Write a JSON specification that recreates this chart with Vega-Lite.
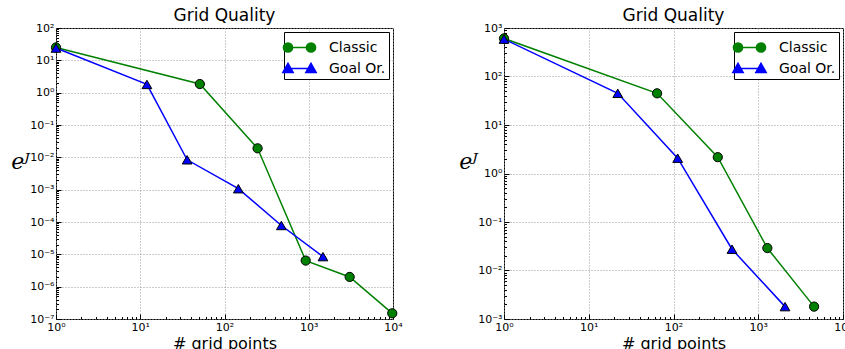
{
  "$schema": "https://vega.github.io/schema/vega-lite/v6.json",
  "background": "white",
  "padding": {"left": 10, "top": 6, "right": 0, "bottom": 0},
  "spacing": 55,
  "resolve": {
    "scale": {"fill": "independent", "stroke": "independent", "shape": "independent"},
    "legend": {"fill": "independent", "stroke": "independent", "shape": "independent"}
  },
  "config": {
    "font": "DejaVu Sans",
    "view": {"stroke": "black", "strokeWidth": 1},
    "title": {"fontSize": 17, "fontWeight": "normal", "color": "black", "offset": -3, "font": "DejaVu Sans", "frame": "group", "baseline": "alphabetic"},
    "axis": {
      "domain": false,
      "labelFont": "DejaVu Sans",
      "labelFontSize": 11,
      "labelColor": "black",
      "titleFont": "DejaVu Sans",
      "titleFontSize": 16,
      "titleFontWeight": "normal",
      "titleColor": "black",
      "tickColor": "black",
      "gridColor": "#999999",
      "gridDash": [1, 2],
      "gridWidth": 1
    },
    "legend": {
      "title": null,
      "orient": "top-right",
      "offset": 4,
      "padding": 3,
      "strokeColor": "black",
      "fillColor": "white",
      "cornerRadius": 0,
      "labelFontSize": 14,
      "labelFont": "DejaVu Sans",
      "labelColor": "black",
      "symbolSize": 529,
      "symbolStrokeWidth": 1.5,
      "symbolOpacity": 1,
      "labelOffset": 17,
      "rowPadding": 0
    }
  },
  "datasets": {
    "left": [
      {"series": "Classic", "x": 1, "y": 25},
      {"series": "Classic", "x": 51, "y": 1.85},
      {"series": "Classic", "x": 247, "y": 0.019},
      {"series": "Classic", "x": 920, "y": 6.4e-6},
      {"series": "Classic", "x": 3060, "y": 2.0e-6},
      {"series": "Classic", "x": 9800, "y": 1.5e-7},
      {"series": "Goal Or.", "x": 1, "y": 24},
      {"series": "Goal Or.", "x": 12, "y": 1.8},
      {"series": "Goal Or.", "x": 36, "y": 0.0084},
      {"series": "Goal Or.", "x": 146, "y": 0.00107},
      {"series": "Goal Or.", "x": 473, "y": 7.8e-5},
      {"series": "Goal Or.", "x": 1475, "y": 8.5e-6}
    ],
    "right": [
      {"series": "Classic", "x": 1, "y": 610},
      {"series": "Classic", "x": 64, "y": 45},
      {"series": "Classic", "x": 333, "y": 2.17},
      {"series": "Classic", "x": 1280, "y": 0.029},
      {"series": "Classic", "x": 4560, "y": 0.0018},
      {"series": "Goal Or.", "x": 1, "y": 590},
      {"series": "Goal Or.", "x": 22, "y": 45},
      {"series": "Goal Or.", "x": 112, "y": 2.07},
      {"series": "Goal Or.", "x": 490, "y": 0.0275},
      {"series": "Goal Or.", "x": 2070, "y": 0.0018}
    ]
  },
  "hconcat": [
    {
      "width": 337,
      "height": 291,
      "title": "Grid Quality",
      "data": {"name": "left"},
      "encoding": {
        "x": {
          "field": "x", "type": "quantitative",
          "scale": {"type": "log", "domain": [1, 10000], "nice": false},
          "axis": {
            "title": "# grid points",
            "titlePadding": 1,
            "values": [1,2,3,4,5,6,7,8,9,10,20,30,40,50,60,70,80,90,100,200,300,400,500,600,700,800,900,1000,2000,3000,4000,5000,6000,7000,8000,9000,10000],
            "labelExpr": "abs(log(datum.value)/LN10 - round(log(datum.value)/LN10)) < 0.001 ? '10' + (round(log(datum.value)/LN10) < 0 ? '⁻' : '') + ['⁰','¹','²','³','⁴','⁵','⁶','⁷','⁸','⁹'][abs(round(log(datum.value)/LN10))] : ''",
            "labelFlush": false,
            "labelOverlap": false,
            "tickSize": {"condition": {"test": "abs(log(datum.value)/LN10 - round(log(datum.value)/LN10)) < 0.001", "value": -5}, "value": -2.5},
            "gridOpacity": {"condition": {"test": "abs(log(datum.value)/LN10 - round(log(datum.value)/LN10)) < 0.001", "value": 1}, "value": 0},
            "labelPadding": 7
          }
        },
        "y": {
          "field": "y", "type": "quantitative",
          "scale": {"type": "log", "domain": [1e-7, 100], "nice": false},
          "axis": {
            "title": "eᴶ",
            "titleFont": "DejaVu Serif",
            "titleFontStyle": "italic",
            "titleFontSize": 22,
            "titleAngle": 0,
            "titleAlign": "center",
            "titleBaseline": "alphabetic",
            "titleX": -36,
            "titleY": 140,
            "values": [1e-7,2e-7,3e-7,4e-7,5e-7,6e-7,7e-7,8e-7,9e-7,1e-6,2e-6,3e-6,4e-6,5e-6,6e-6,7e-6,8e-6,9e-6,1e-5,2e-5,3e-5,4e-5,5e-5,6e-5,7e-5,8e-5,9e-5,1e-4,2e-4,3e-4,4e-4,5e-4,6e-4,7e-4,8e-4,9e-4,0.001,0.002,0.003,0.004,0.005,0.006,0.007,0.008,0.009,0.01,0.02,0.03,0.04,0.05,0.06,0.07,0.08,0.09,0.1,0.2,0.3,0.4,0.5,0.6,0.7,0.8,0.9,1,2,3,4,5,6,7,8,9,10,20,30,40,50,60,70,80,90,100],
            "labelExpr": "abs(log(datum.value)/LN10 - round(log(datum.value)/LN10)) < 0.001 ? '10' + (round(log(datum.value)/LN10) < 0 ? '⁻' : '') + ['⁰','¹','²','³','⁴','⁵','⁶','⁷','⁸','⁹'][abs(round(log(datum.value)/LN10))] : ''",
            "labelFlush": false,
            "labelOverlap": false,
            "tickSize": {"condition": {"test": "abs(log(datum.value)/LN10 - round(log(datum.value)/LN10)) < 0.001", "value": -5}, "value": -2.5},
            "gridOpacity": {"condition": {"test": "abs(log(datum.value)/LN10 - round(log(datum.value)/LN10)) < 0.001", "value": 1}, "value": 0},
            "labelPadding": 7
          }
        }
      },
      "layer": [
        {
          "transform": [{"filter": "datum.series === 'Classic'"}],
          "mark": {"type": "line", "strokeWidth": 1.5, "color": "#008000"}
        },
        {
          "transform": [{"filter": "datum.series === 'Goal Or.'"}],
          "mark": {"type": "line", "strokeWidth": 1.5, "color": "#0000ff"}
        },
        {
          "transform": [{"filter": "datum.series === 'Classic'"}],
          "mark": {"type": "point", "shape": "circle", "filled": true, "fill": "#008000", "stroke": "black", "strokeWidth": 1, "size": 85, "opacity": 1}
        },
        {
          "transform": [{"filter": "datum.series === 'Goal Or.'"}],
          "mark": {"type": "point", "shape": "triangle-up", "filled": true, "fill": "#0000ff", "stroke": "black", "strokeWidth": 1, "size": 95, "opacity": 1}
        },
        {
          "transform": [{"filter": "false"}],
          "mark": {"type": "point", "filled": true, "size": 529, "opacity": 1},
          "encoding": {
            "fill": {"field": "series", "type": "nominal",
              "scale": {"domain": ["Classic", "Goal Or."], "range": ["#008000", "#0000ff"]}},
            "stroke": {"field": "series", "type": "nominal",
              "scale": {"domain": ["Classic", "Goal Or."], "range": ["#008000", "#0000ff"]}},
            "shape": {"field": "series", "type": "nominal",
              "scale": {"domain": ["Classic", "Goal Or."], "range": ["M-1,0L1,0M-0.6,0A0.4,0.4,0,1,1,-1.4,0A0.4,0.4,0,1,1,-0.6,0ZM1.4,0A0.4,0.4,0,1,1,0.6,0A0.4,0.4,0,1,1,1.4,0Z", "M-1,0L1,0M-1,-0.45L-0.55,0.35L-1.45,0.35ZM1,-0.45L1.45,0.35L0.55,0.35Z"]}}
          }
        }
      ]
    },
    {
      "width": 339,
      "height": 291,
      "title": "Grid Quality",
      "data": {"name": "right"},
      "encoding": {
        "x": {
          "field": "x", "type": "quantitative",
          "scale": {"type": "log", "domain": [1, 10000], "nice": false},
          "axis": {
            "title": "# grid points",
            "titlePadding": 1,
            "values": [1,2,3,4,5,6,7,8,9,10,20,30,40,50,60,70,80,90,100,200,300,400,500,600,700,800,900,1000,2000,3000,4000,5000,6000,7000,8000,9000,10000],
            "labelExpr": "abs(log(datum.value)/LN10 - round(log(datum.value)/LN10)) < 0.001 ? '10' + (round(log(datum.value)/LN10) < 0 ? '⁻' : '') + ['⁰','¹','²','³','⁴','⁵','⁶','⁷','⁸','⁹'][abs(round(log(datum.value)/LN10))] : ''",
            "labelFlush": false,
            "labelOverlap": false,
            "tickSize": {"condition": {"test": "abs(log(datum.value)/LN10 - round(log(datum.value)/LN10)) < 0.001", "value": -5}, "value": -2.5},
            "gridOpacity": {"condition": {"test": "abs(log(datum.value)/LN10 - round(log(datum.value)/LN10)) < 0.001", "value": 1}, "value": 0},
            "labelPadding": 7
          }
        },
        "y": {
          "field": "y", "type": "quantitative",
          "scale": {"type": "log", "domain": [0.001, 1000], "nice": false},
          "axis": {
            "title": "eᴶ",
            "titleFont": "DejaVu Serif",
            "titleFontStyle": "italic",
            "titleFontSize": 22,
            "titleAngle": 0,
            "titleAlign": "center",
            "titleBaseline": "alphabetic",
            "titleX": -36,
            "titleY": 140,
            "values": [0.001,0.002,0.003,0.004,0.005,0.006,0.007,0.008,0.009,0.01,0.02,0.03,0.04,0.05,0.06,0.07,0.08,0.09,0.1,0.2,0.3,0.4,0.5,0.6,0.7,0.8,0.9,1,2,3,4,5,6,7,8,9,10,20,30,40,50,60,70,80,90,100,200,300,400,500,600,700,800,900,1000],
            "labelExpr": "abs(log(datum.value)/LN10 - round(log(datum.value)/LN10)) < 0.001 ? '10' + (round(log(datum.value)/LN10) < 0 ? '⁻' : '') + ['⁰','¹','²','³','⁴','⁵','⁶','⁷','⁸','⁹'][abs(round(log(datum.value)/LN10))] : ''",
            "labelFlush": false,
            "labelOverlap": false,
            "tickSize": {"condition": {"test": "abs(log(datum.value)/LN10 - round(log(datum.value)/LN10)) < 0.001", "value": -5}, "value": -2.5},
            "gridOpacity": {"condition": {"test": "abs(log(datum.value)/LN10 - round(log(datum.value)/LN10)) < 0.001", "value": 1}, "value": 0},
            "labelPadding": 7
          }
        }
      },
      "layer": [
        {
          "transform": [{"filter": "datum.series === 'Classic'"}],
          "mark": {"type": "line", "strokeWidth": 1.5, "color": "#008000"}
        },
        {
          "transform": [{"filter": "datum.series === 'Goal Or.'"}],
          "mark": {"type": "line", "strokeWidth": 1.5, "color": "#0000ff"}
        },
        {
          "transform": [{"filter": "datum.series === 'Classic'"}],
          "mark": {"type": "point", "shape": "circle", "filled": true, "fill": "#008000", "stroke": "black", "strokeWidth": 1, "size": 85, "opacity": 1}
        },
        {
          "transform": [{"filter": "datum.series === 'Goal Or.'"}],
          "mark": {"type": "point", "shape": "triangle-up", "filled": true, "fill": "#0000ff", "stroke": "black", "strokeWidth": 1, "size": 95, "opacity": 1}
        },
        {
          "transform": [{"filter": "false"}],
          "mark": {"type": "point", "filled": true, "size": 529, "opacity": 1},
          "encoding": {
            "fill": {"field": "series", "type": "nominal",
              "scale": {"domain": ["Classic", "Goal Or."], "range": ["#008000", "#0000ff"]}},
            "stroke": {"field": "series", "type": "nominal",
              "scale": {"domain": ["Classic", "Goal Or."], "range": ["#008000", "#0000ff"]}},
            "shape": {"field": "series", "type": "nominal",
              "scale": {"domain": ["Classic", "Goal Or."], "range": ["M-1,0L1,0M-0.6,0A0.4,0.4,0,1,1,-1.4,0A0.4,0.4,0,1,1,-0.6,0ZM1.4,0A0.4,0.4,0,1,1,0.6,0A0.4,0.4,0,1,1,1.4,0Z", "M-1,0L1,0M-1,-0.45L-0.55,0.35L-1.45,0.35ZM1,-0.45L1.45,0.35L0.55,0.35Z"]}}
          }
        }
      ]
    }
  ]
}
